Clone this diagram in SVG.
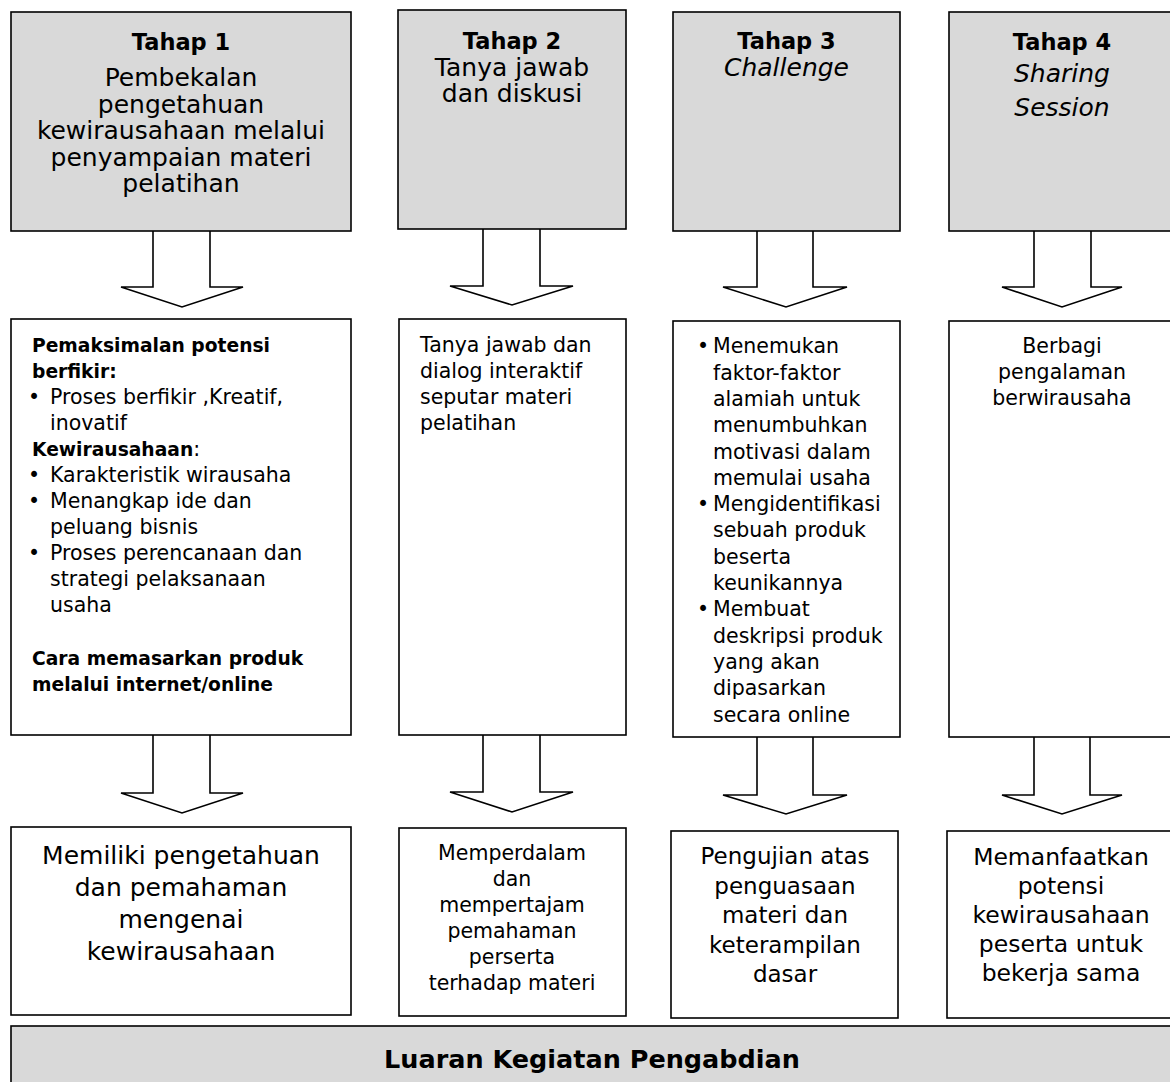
<svg xmlns="http://www.w3.org/2000/svg" width="1170" height="1082" viewBox="0 0 1170 1082">
<style>
.box{fill:#fff;stroke:#000;stroke-width:1.6}
.gbox{fill:#d9d9d9;stroke:#000;stroke-width:1.6}
.arrow{fill:#fff;stroke:#000;stroke-width:1.6;stroke-linejoin:miter}
text{font-family:"DejaVu Sans","Liberation Sans",sans-serif;fill:#000}
.c{text-anchor:middle}
.h{font-weight:bold;font-size:22.5px}
.t25{font-size:25px}
.t20{font-size:20.5px}
.b18{font-weight:bold;font-size:18.7px}
.it{font-style:italic}
</style>
<rect width="1170" height="1082" fill="#fff"/>

<g id="connectors">
<path class="arrow" d="M153,231 V287 H121 L182,307 L243,287 H210 V231"/>
<path class="arrow" d="M483,229 V286 H450 L512,305 L573,286 H540 V229"/>
<path class="arrow" d="M757,231 V287 H723 L786,307 L847,287 H813 V231"/>
<path class="arrow" d="M1034,231 V287 H1002 L1062,307 L1122,287 H1091 V231"/>
<path class="arrow" d="M153,735 V793 H121 L182,813 L243,793 H210 V735"/>
<path class="arrow" d="M483,735 V792 H450 L512,812 L573,792 H540 V735"/>
<path class="arrow" d="M757,737 V795 H723 L786,814 L847,795 H813 V737"/>
<path class="arrow" d="M1034,737 V795 H1002 L1062,814 L1122,795 H1090 V737"/>
</g>

<g id="tahap1">
<rect class="gbox" x="11" y="12" width="340" height="219"/>
<text class="c h" x="181" y="50">Tahap 1</text>
<text class="c t25" x="181" y="86">Pembekalan</text>
<text class="c t25" x="181" y="112.5">pengetahuan</text>
<text class="c t25" x="181" y="139">kewirausahaan melalui</text>
<text class="c t25" x="181" y="165.5">penyampaian materi</text>
<text class="c t25" x="181" y="192">pelatihan</text>
</g>
<g id="tahap2">
<rect class="gbox" x="398" y="10" width="228" height="219"/>
<text class="c h" x="512" y="49">Tahap 2</text>
<text class="c t25" x="512" y="75.5">Tanya jawab</text>
<text class="c t25" x="512" y="102">dan diskusi</text>
</g>
<g id="tahap3">
<rect class="gbox" x="673" y="12" width="227" height="219"/>
<text class="c h" x="786.5" y="49">Tahap 3</text>
<text class="c t25 it" x="786.5" y="76">Challenge</text>
</g>
<g id="tahap4">
<rect class="gbox" x="949" y="12" width="227" height="219"/>
<text class="c h" x="1062" y="50">Tahap 4</text>
<text class="c t25 it" x="1062" y="82">Sharing</text>
<text class="c t25 it" x="1062" y="116">Session</text>
</g>

<g id="materi1">
<rect class="box" x="11" y="319" width="340" height="416"/>
<text class="b18" x="32" y="352">Pemaksimalan potensi</text>
<text class="b18" x="32" y="378">berfikir:</text>
<text class="t20" x="28" y="404">•</text>
<text class="t20" x="50" y="404">Proses berfikir ,Kreatif,</text>
<text class="t20" x="50" y="430">inovatif</text>
<text x="32" y="456"><tspan class="b18">Kewirausahaan</tspan><tspan class="t20">:</tspan></text>
<text class="t20" x="28" y="482">•</text>
<text class="t20" x="50" y="482">Karakteristik wirausaha</text>
<text class="t20" x="28" y="508">•</text>
<text class="t20" x="50" y="508">Menangkap ide dan</text>
<text class="t20" x="50" y="534">peluang bisnis</text>
<text class="t20" x="28" y="560">•</text>
<text class="t20" x="50" y="560">Proses perencanaan dan</text>
<text class="t20" x="50" y="586">strategi pelaksanaan</text>
<text class="t20" x="50" y="612">usaha</text>
<text class="b18" x="32" y="665">Cara memasarkan produk</text>
<text class="b18" x="32" y="691">melalui internet/online</text>
</g>
<g id="materi2">
<rect class="box" x="399" y="319" width="227" height="416"/>
<text class="t20" x="420" y="352">Tanya jawab dan</text>
<text class="t20" x="420" y="378">dialog interaktif</text>
<text class="t20" x="420" y="404">seputar materi</text>
<text class="t20" x="420" y="430">pelatihan</text>
</g>
<g id="materi3">
<rect class="box" x="673" y="321" width="227" height="416"/>
<text class="t20" x="697" y="353.3">•</text>
<text class="t20" x="713" y="353.3">Menemukan</text>
<text class="t20" x="713" y="379.6">faktor-faktor</text>
<text class="t20" x="713" y="405.9">alamiah untuk</text>
<text class="t20" x="713" y="432.2">menumbuhkan</text>
<text class="t20" x="713" y="458.5">motivasi dalam</text>
<text class="t20" x="713" y="484.8">memulai usaha</text>
<text class="t20" x="697" y="511.1">•</text>
<text class="t20" x="713" y="511.1">Mengidentifikasi</text>
<text class="t20" x="713" y="537.4">sebuah produk</text>
<text class="t20" x="713" y="563.7">beserta</text>
<text class="t20" x="713" y="590">keunikannya</text>
<text class="t20" x="697" y="616.3">•</text>
<text class="t20" x="713" y="616.3">Membuat</text>
<text class="t20" x="713" y="642.6">deskripsi produk</text>
<text class="t20" x="713" y="668.9">yang akan</text>
<text class="t20" x="713" y="695.2">dipasarkan</text>
<text class="t20" x="713" y="721.5">secara online</text>
</g>
<g id="materi4">
<rect class="box" x="949" y="321" width="227" height="416"/>
<text class="c t20" x="1062" y="353">Berbagi</text>
<text class="c t20" x="1062" y="379">pengalaman</text>
<text class="c t20" x="1062" y="405">berwirausaha</text>
</g>

<g id="hasil1">
<rect class="box" x="11" y="827" width="340" height="188"/>
<text class="c t25" x="181" y="864">Memiliki pengetahuan</text>
<text class="c t25" x="181" y="896">dan pemahaman</text>
<text class="c t25" x="181" y="928">mengenai</text>
<text class="c t25" x="181" y="960">kewirausahaan</text>
</g>
<g id="hasil2">
<rect class="box" x="399" y="828" width="227" height="188"/>
<text class="c t20" x="512" y="860">Memperdalam</text>
<text class="c t20" x="512" y="886">dan</text>
<text class="c t20" x="512" y="912">mempertajam</text>
<text class="c t20" x="512" y="938">pemahaman</text>
<text class="c t20" x="512" y="964">perserta</text>
<text class="c t20" x="512" y="990">terhadap materi</text>
</g>
<g id="hasil3" font-size="23">
<rect class="box" x="671" y="831" width="227" height="187"/>
<text class="c" x="785" y="864">Pengujian atas</text>
<text class="c" x="785" y="893.5">penguasaan</text>
<text class="c" x="785" y="923">materi dan</text>
<text class="c" x="785" y="952.5">keterampilan</text>
<text class="c" x="785" y="982">dasar</text>
</g>
<g id="hasil4" font-size="23.5">
<rect class="box" x="947" y="831" width="229" height="187"/>
<text class="c" x="1061" y="865">Memanfaatkan</text>
<text class="c" x="1061" y="894">potensi</text>
<text class="c" x="1061" y="923">kewirausahaan</text>
<text class="c" x="1061" y="952">peserta untuk</text>
<text class="c" x="1061" y="981">bekerja sama</text>
</g>

<g id="luaran">
<rect class="gbox" x="11" y="1026" width="1170" height="70"/>
<text class="c" x="592" y="1068" font-weight="bold" font-size="25.5">Luaran Kegiatan Pengabdian</text>
</g>
</svg>
